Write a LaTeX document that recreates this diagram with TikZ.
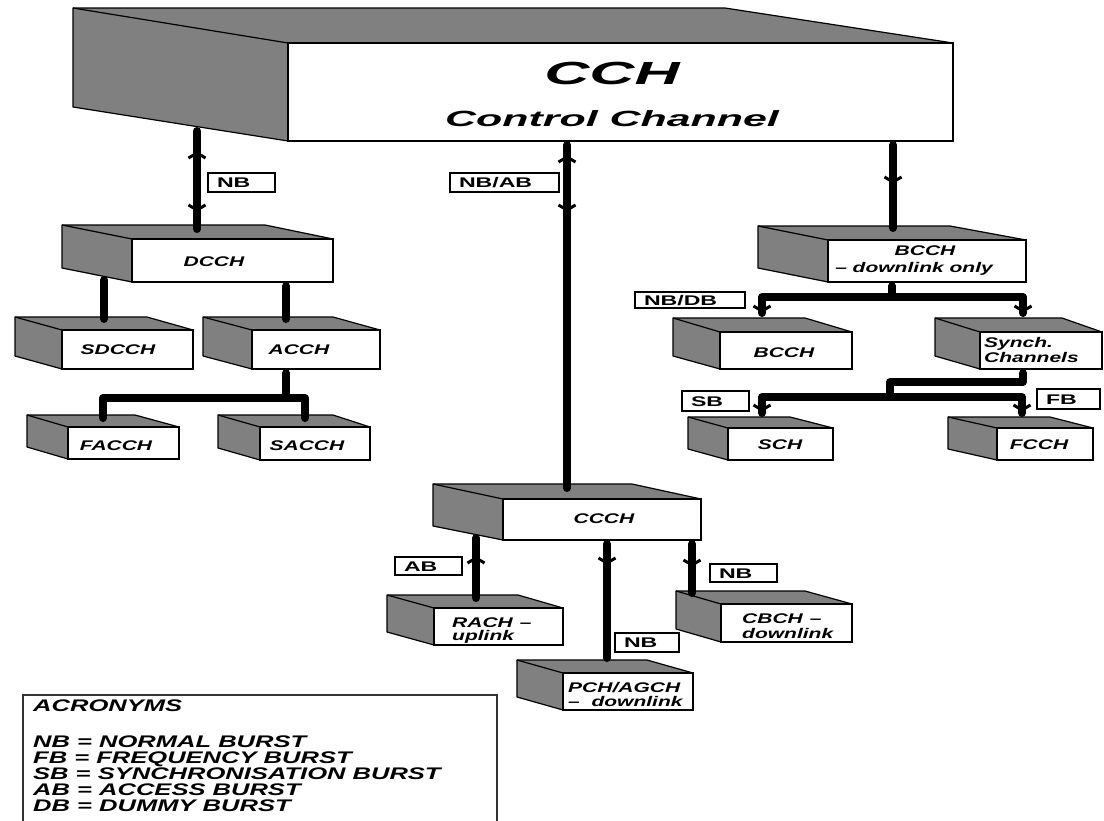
\documentclass[tikz,border=0pt]{standalone}
\usepackage{fontspec}
\usetikzlibrary{decorations.markings}
\newfontfamily\boxfont[FakeStretch=1.5]{Liberation Sans}
\newfontfamily\tagfont[FakeStretch=1.65]{Liberation Sans}
\newfontfamily\titlefont[FakeStretch=1.95]{Liberation Sans}
\newfontfamily\acrfont[FakeStretch=1.52]{Liberation Sans}
\definecolor{sidegray}{HTML}{808080}
\tikzset{
  sideface/.style={fill=sidegray, draw=black, line width=1.2pt, line join=round},
  sideedge/.style={draw=black, line width=1.2pt},
  face/.style={rectangle, draw=black, fill=white, line width=1.3pt, inner sep=0pt},
  lbl/.style={font=\boxfont\bfseries\itshape\fontsize{14}{14}\selectfont, inner sep=0pt, anchor=base},
  lblw/.style={lbl, anchor=base west},
  titleA/.style={font=\titlefont\bfseries\itshape\fontsize{32}{32}\selectfont, inner sep=0pt, anchor=base},
  titleB/.style={font=\titlefont\bfseries\itshape\fontsize{22}{22}\selectfont, inner sep=0pt, anchor=base},
  tagst/.style={rectangle, draw=black, fill=white, line width=1.2pt, inner xsep=9pt, inner ysep=0pt,
    align=left, text height=10pt, text depth=0pt, font=\tagfont\bfseries\fontsize{14}{14}\selectfont},
  acr/.style={font=\acrfont\bfseries\itshape\fontsize{16.8}{16.8}\selectfont, inner sep=0pt, anchor=base west},
  acrbox/.style={draw=black!80, line width=1.3pt},
  conn/.style={draw=black, line width=8pt, line cap=round, line join=round},
  chev/.style={draw=black, line width=3pt, line cap=butt, line join=miter},
  up at/.style={postaction={decorate, decoration={markings,
      mark=at position #1 with {\draw[chev] (5,-8.5) -- (0,0) -- (5,8.5);}}}},
  down at/.style={postaction={decorate, decoration={markings,
      mark=at position #1 with {\draw[chev] (-5,-8.5) -- (0,0) -- (-5,8.5);}}}},
}
% name, front x1 y1 x2 y2, back x1 y1 x2 y2(bottom)
\newcommand{\chbox}[9]{%
  \filldraw[sideface] (#6,#7) -- (#8,#7) -- (#4,#3) -- (#2,#3) -- (#2,#5) -- (#6,#9) -- cycle;
  \draw[sideedge] (#6,#7) -- (#2,#3);
  \node[face, minimum width={(#4-#2)*1pt}, minimum height={(#5-#3)*1pt}] (#1) at ({(#2+#4)/2},{(#3+#5)/2}) {};
}
% name, x1 y1 x2 y2, text width, text
\newcommand{\tagbox}[7]{%
  \node[tagst, minimum width={(#4-#2)*1pt}, minimum height={(#5-#3)*1pt}, text width=#6pt] (#1) at ({(#2+#4)/2},{(#3+#5)/2}) {#7};
}
\begin{document}
\begin{tikzpicture}[x=1pt, y=-1pt]
\useasboundingbox (0,0) rectangle (1104,820);
\clip (0,0) rectangle (1104,820);
\fill[white] (0,0) rectangle (1104,820);

% ---- boxes ----
\chbox{cch}{288}{43}{953}{141}{73}{8}{725}{107}
\chbox{dcch}{132}{239}{333}{282}{62}{225}{265}{268}
\chbox{sdcch}{62}{330}{193}{369}{15}{317}{147}{356}
\chbox{acch}{252}{330}{380}{369}{203}{317}{333}{356}
\chbox{facch}{68}{427}{179}{459}{27}{415}{135}{447}
\chbox{sacch}{260}{427}{370}{460}{218}{415}{333}{448}
\chbox{bcchd}{828}{240}{1026}{282}{758}{226}{950}{268}
\chbox{bcch}{720}{332}{852}{369}{673}{318}{805}{356}
\chbox{synch}{980}{332}{1102}{369}{935}{318}{1062}{356}
\chbox{sch}{728}{428}{833}{460}{688}{417}{790}{449}
\chbox{fcch}{997}{428}{1093}{460}{948}{417}{1050}{449}
\chbox{ccch}{503}{499}{701}{540}{433}{484}{632}{526}
\chbox{rach}{434}{608}{563}{645}{387}{595}{518}{632}
\chbox{pch}{563}{673}{693}{710}{517}{660}{647}{697}
\chbox{cbch}{721}{604}{852}{642}{676}{591}{805}{629}

% ---- box texts ----
\node[titleA] (cch-l1) at (612,84.5) {CCH};
\node[titleB] (cch-l2) at (612,126) {Control Channel};
\node[lbl] (dcch-l) at (214,266) {DCCH};
\node[lbl] (sdcch-l) at (118,354) {SDCCH};
\node[lbl] (acch-l) at (299,354) {ACCH};
\node[lbl] (facch-l) at (116,450) {FACCH};
\node[lbl] (sacch-l) at (307,450) {SACCH};
\node[lbl] (bcchd-l1) at (925,255) {BCCH};
\node[lbl] (bcchd-l2) at (914,272) {– downlink only};
\node[lbl] (bcch-l) at (784,357) {BCCH};
\node[lblw] (synch-l1) at (984,347) {Synch.};
\node[lblw] (synch-l2) at (984,362) {Channels};
\node[lbl] (sch-l) at (780,449) {SCH};
\node[lbl] (fcch-l) at (1039,449) {FCCH};
\node[lbl] (ccch-l) at (604,523) {CCCH};
\node[lblw] (rach-l1) at (452,627) {RACH\hspace{7pt}–};
\node[lblw] (rach-l2) at (452,640) {uplink};
\node[lblw] (pch-l1) at (568,692) {PCH/AGCH};
\node[lblw] (pch-l2) at (568,706) {– \ downlink};
\node[lblw] (cbch-l1) at (742,623) {CBCH\hspace{7pt}–};
\node[lblw] (cbch-l2) at (742,638) {downlink};

% ---- connector end points ----
\coordinate (c1s) at (197,131);  \coordinate (dcch-in) at (197,229);
\coordinate (c2s) at (567,145);  \coordinate (ccch-in) at (567,488);
\coordinate (c3s) at (893,145);  \coordinate (bcchd-in) at (893,228);
\coordinate (c4s) at (104,280);  \coordinate (sdcch-in) at (104,319);
\coordinate (c5s) at (286,286);  \coordinate (acch-in) at (286,319);
\coordinate (c6s) at (286,373);  \coordinate (c6j) at (286,398);
\coordinate (facch-in) at (103,418); \coordinate (sacch-in) at (305,418);
\coordinate (c7s) at (892,286);  \coordinate (c7j) at (892,297);
\coordinate (bcch-in) at (762,313); \coordinate (synch-in) at (1023,313);
\coordinate (c8s) at (1023,373); \coordinate (c8m) at (890,382); \coordinate (c8j) at (890,397);
\coordinate (sch-in) at (762,413); \coordinate (fcch-in) at (1022,413);
\coordinate (c9s) at (476,538);  \coordinate (rach-in) at (476,598);
\coordinate (c10s) at (607,544); \coordinate (pch-in) at (607,658);
\coordinate (c11s) at (692,544); \coordinate (cbch-in) at (692,593);

% ---- connectors ----
\draw[conn, up at=22pt, down at=79pt] (c1s) -- (dcch-in);
\draw[conn, up at=12pt, down at=65pt] (c2s) -- (ccch-in);
\draw[conn, down at=37pt] (c3s) -- (bcchd-in);
\draw[conn] (c4s) -- (sdcch-in);
\draw[conn] (c5s) -- (acch-in);
\draw[conn] (c6s) -- (c6j);
\draw[conn] (facch-in) |- (c6j) -| (sacch-in);
\draw[conn] (c7s) -- (c7j);
\draw[conn, down at=-2pt] (c7j) -| (bcch-in);
\draw[conn, down at=-2pt] (c7j) -| (synch-in);
\draw[conn] (c8s) |- (c8m) -- (c8j);
\draw[conn, down at=-3pt] (c8j) -| (sch-in);
\draw[conn, down at=-3pt] (c8j) -| (fcch-in);
\draw[conn, up at=20pt] (c9s) -- (rach-in);
\draw[conn, down at=19pt] (c10s) -- (pch-in);
\draw[conn, down at=21pt] (c11s) -- (cbch-in);

% ---- burst tags ----
\tagbox{tag-nb1}{208}{173}{275}{192}{49}{NB}
\tagbox{tag-nbab}{450}{173}{559}{192}{91}{NB/AB}
\tagbox{tag-nbdb}{635}{292}{745}{308}{92}{NB/DB}
\tagbox{tag-sb}{682}{391}{749}{411}{49}{SB}
\tagbox{tag-fb}{1037}{389}{1100}{409}{45}{FB}
\tagbox{tag-ab}{395}{557}{462}{575}{49}{AB}
\tagbox{tag-nb2}{615}{633}{679}{652}{46}{NB}
\tagbox{tag-nb3}{710}{564}{777}{582}{49}{NB}

% ---- acronyms ----
\draw[acrbox] (23,825) -- (23,695) -- (497,695) -- (497,825);
\node[acr] (acr0) at (33,711) {ACRONYMS};
\node[acr] (acr1) at (33,747) {NB = NORMAL BURST};
\node[acr] (acr2) at (33,763) {FB = FREQUENCY BURST};
\node[acr] (acr3) at (33,779) {SB = SYNCHRONISATION BURST};
\node[acr] (acr4) at (33,795) {AB = ACCESS BURST};
\node[acr] (acr5) at (33,811) {DB = DUMMY BURST};
\end{tikzpicture}
\end{document}
